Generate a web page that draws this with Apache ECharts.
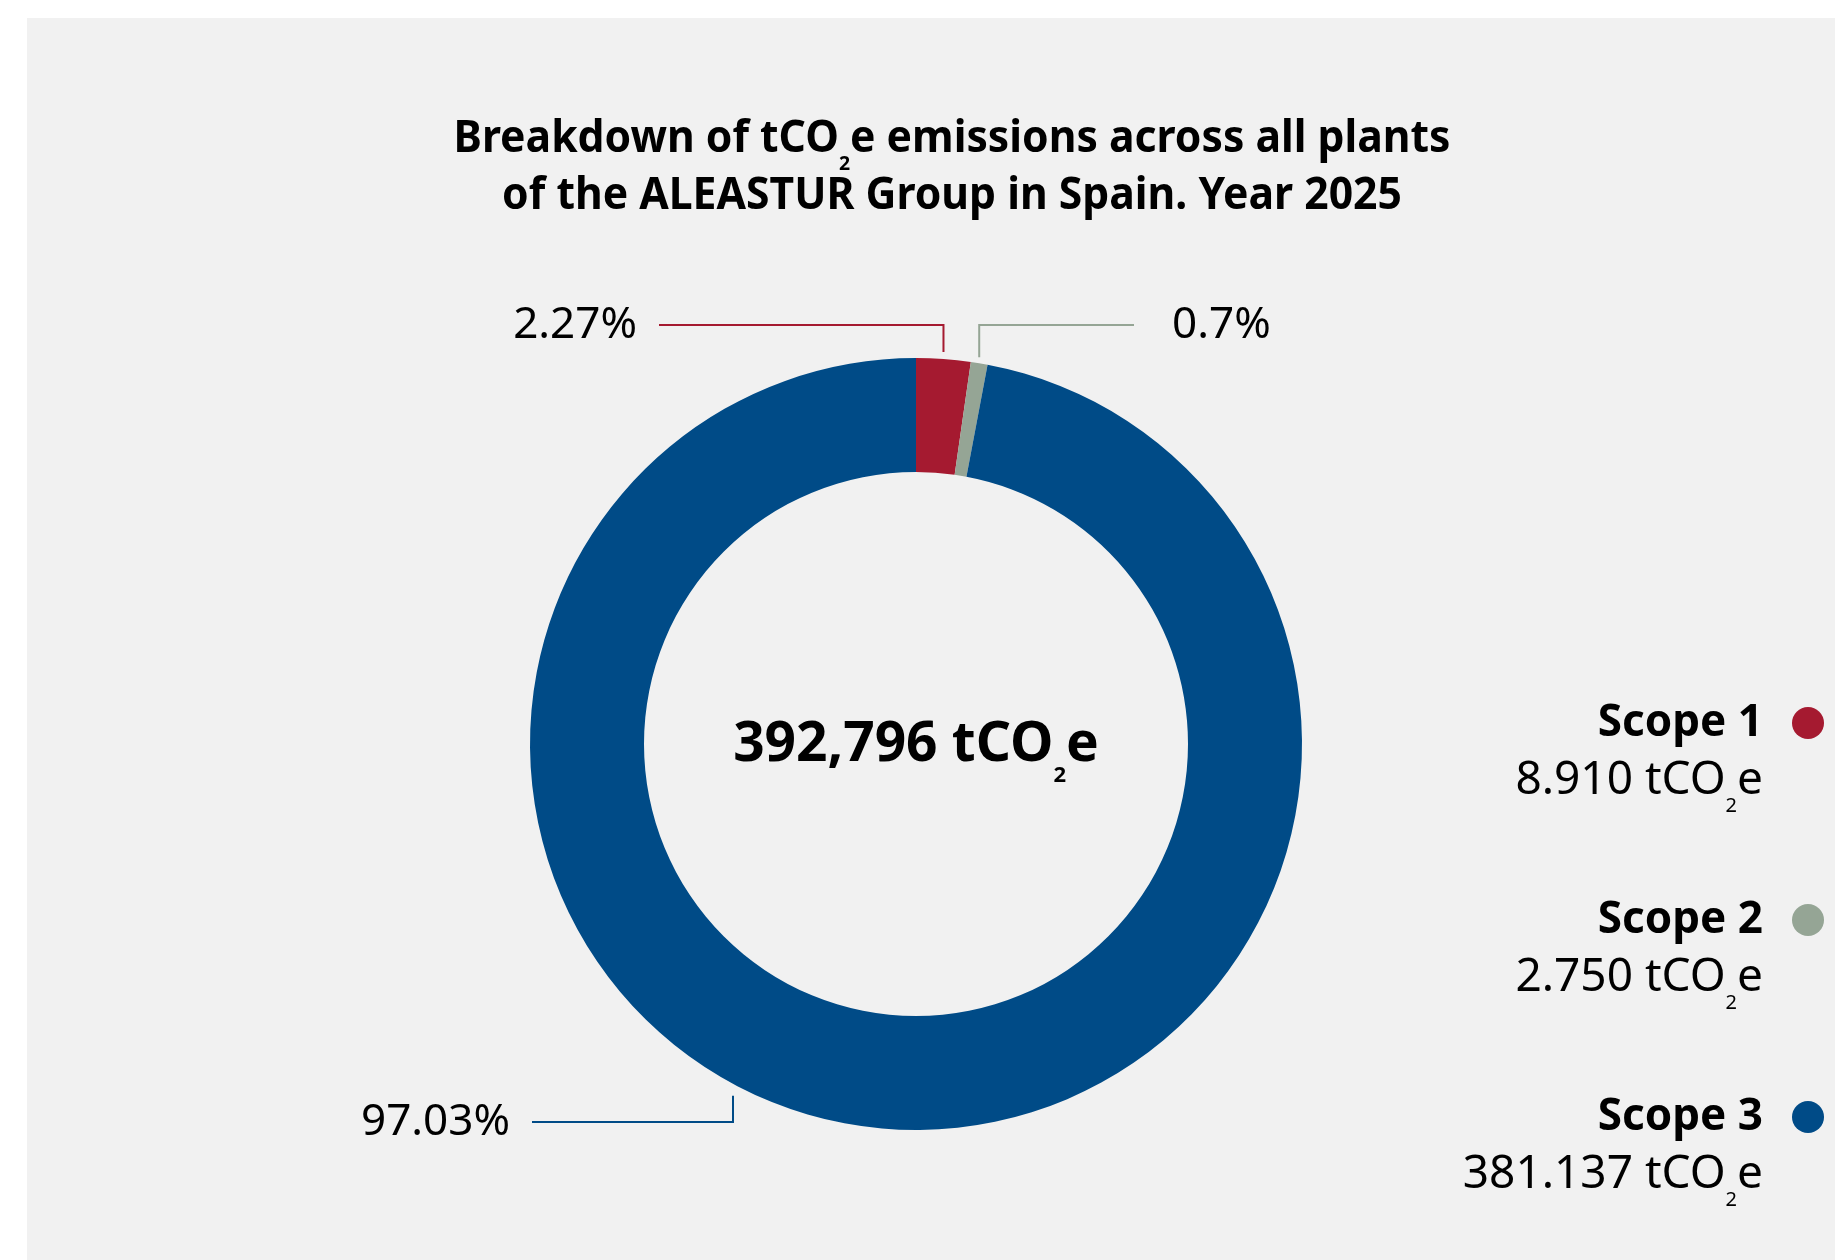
<!DOCTYPE html>
<html><head><meta charset="utf-8">
<script src="https://cdn.jsdelivr.net/npm/echarts@6/dist/echarts.min.js"></script>
<style>html,body{margin:0;padding:0;background:#fff}#c{width:1835px;height:1260px}</style>
</head><body><div id="c"></div>
<script>
// ---- data ----
const categories = ['Scope 1', 'Scope 2', 'Scope 3'];
const values = [8910, 2750, 381137];
const colors = ['#A51A30', '#95A595', '#004B87'];
const totalEmissions = 392796;
const titleLine1 = ['Breakdown of tCO', '2', 'e emissions across all plants'];
const titleLine2 = 'of the ALEASTUR Group in Spain. Year 2025';
const unitParts = [' tCO', '2', 'e'];

// ---- layout ----
const FONT = "'Noto Sans', 'Open Sans', sans-serif";
const CX = 916, CY = 744, R_IN = 272, R_OUT = 386;
const guides = [
  { anchorDeg: null, gap: 7,  elbowDY: -419, endDX: -257, textDX: -279, align: 'right' },
  { anchorDeg: null, gap: 6,  elbowDY: -419, endDX: 218,  textDX: 256,  align: 'left' },
  { anchorDeg: 208.3, gap: 12, elbowDY: 378, endDX: -384, textDX: -406, align: 'right' }
];

function fmt(n, sep) {
  return String(n).replace(/\B(?=(\d{3})+(?!\d))/g, sep);
}

const sum = values.reduce((a, b) => a + b, 0);
function midDeg(i) {
  let s = 0;
  for (let k = 0; k < i; k++) s += values[k];
  return (s + values[i] / 2) / sum * 360;
}

// title horizontal condensing to match reference width
const mctx = document.createElement('canvas').getContext('2d');
function tw(font, t) { mctx.font = font; return mctx.measureText(t).width; }
const TITLE_SIZE = 44, TITLE_SUB = 20;
const line1W = tw('bold ' + TITLE_SIZE + 'px ' + FONT, titleLine1[0] + titleLine1[2]) +
               tw('bold ' + TITLE_SUB + 'px ' + FONT, titleLine1[1]);
const titleScale = Math.min(1, 997 / line1W);

const chart = echarts.init(document.getElementById('c'), null, { renderer: 'canvas' });

const option = {
  backgroundColor: '#ffffff',
  animation: false,
  color: colors,
  graphic: [
    { type: 'rect', z: -10, silent: true, shape: { x: 27, y: 18, width: 1808, height: 1242 }, style: { fill: '#F1F1F1' } },
    {
      type: 'text', x: 952, y: 168, scaleX: titleScale, originX: 0, originY: 0, silent: true,
      style: {
        text: '{t|' + titleLine1[0] + '}{s|' + titleLine1[1] + '}{t|' + titleLine1[2] + '}\n{t|' + titleLine2 + '}',
        align: 'center', verticalAlign: 'middle',
        lineHeight: 57, fill: '#000',
        rich: {
          t: { fontFamily: FONT, fontWeight: 'bold', fontSize: TITLE_SIZE, lineHeight: 57, fill: '#000' },
          s: { fontFamily: FONT, fontWeight: 'bold', fontSize: TITLE_SUB, lineHeight: 57, padding: [49, 0, 0, 0], fill: '#000' }
        }
      }
    }
  ],
  title: {
    text: '{m|' + fmt(totalEmissions, ',') + unitParts[0] + '}{s|' + unitParts[1] + '}{m|' + unitParts[2] + '}',
    left: CX, top: CY + 1, textAlign: 'center', textVerticalAlign: 'middle', padding: 0,
    textStyle: {
      lineHeight: 64,
      rich: {
        m: { fontFamily: FONT, fontWeight: 'bold', fontSize: 55, lineHeight: 64, color: '#000' },
        s: { fontFamily: FONT, fontWeight: 'bold', fontSize: 22, lineHeight: 64, padding: [62, 0, 0, 0], color: '#000' }
      }
    }
  },
  legend: {
    orient: 'vertical', right: 11, top: 636, padding: 0, itemGap: 17,
    itemWidth: 32, itemHeight: 32, icon: 'circle', align: 'right', selectedMode: false,
    data: categories,
    formatter: function (name) {
      const i = categories.indexOf(name);
      return '{b|' + name + '}\n{v|' + fmt(values[i], '.') + unitParts[0] + '}{s|' + unitParts[1] + '}{v|' + unitParts[2] + '}';
    },
    textStyle: {
      padding: [58, 24, 0, 0], lineHeight: 58,
      rich: {
        b: { fontFamily: FONT, fontWeight: 'bold', fontSize: 44, lineHeight: 58, color: '#000' },
        v: { fontFamily: FONT, fontWeight: 'normal', fontSize: 46, lineHeight: 58, color: '#000' },
        s: { fontFamily: FONT, fontWeight: 'normal', fontSize: 20, lineHeight: 58, padding: [50, 0, 0, 0], color: '#000' }
      }
    }
  },
  series: [{
    type: 'pie',
    center: [CX, CY],
    radius: [R_IN, R_OUT],
    startAngle: 90,
    clockwise: true,
    avoidLabelOverlap: false,
    silent: true,
    emphasis: { disabled: true },
    data: categories.map((c, i) => ({ name: c, value: values[i] })),
    label: {
      show: true, position: 'outside',
      formatter: p => p.percent + '%',
      fontFamily: FONT, fontSize: 44, color: '#000'
    },
    labelLine: { show: true, lineStyle: { width: 2 } },
    labelLayout: function (params) {
      const i = params.dataIndex;
      const g = guides[i];
      const deg = g.anchorDeg == null ? midDeg(i) : g.anchorDeg;
      const rad = deg * Math.PI / 180;
      const cs = Math.cos(rad);
      const x0 = CX + R_OUT * Math.sin(rad);
      const y0 = CY - R_OUT * cs - g.gap * Math.sign(cs);
      const ey = CY + g.elbowDY;
      return {
        x: CX + g.textDX, y: ey, align: g.align, verticalAlign: 'middle',
        labelLinePoints: [[x0, y0], [x0, ey], [CX + g.endDX, ey]]
      };
    }
  }]
};
chart.setOption(option);
</script>
</body></html>
